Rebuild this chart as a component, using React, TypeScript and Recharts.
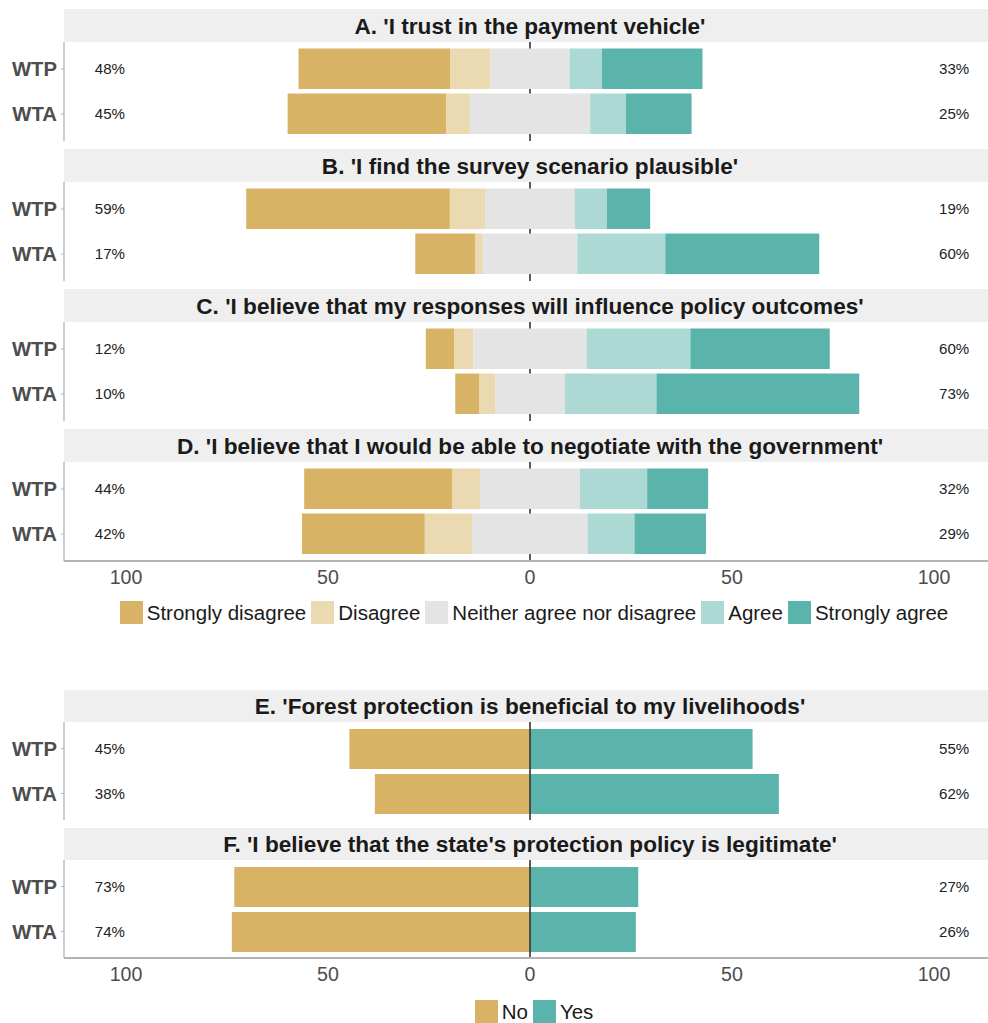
import React from 'react';
import {
  BarChart,
  Bar,
  XAxis,
  YAxis,
  CartesianGrid,
  ReferenceLine,
  ReferenceDot,
} from 'recharts';

const FONT = '"Liberation Sans", Arial, Helvetica, sans-serif';

// ---------- data ----------
const groups = ['WTP', 'WTA'];

const likertLevels = [
  'Strongly disagree',
  'Disagree',
  'Neither agree nor disagree',
  'Agree',
  'Strongly agree',
];
const likertColors = ['#D8B365', '#EBD9B1', '#E4E4E4', '#ADD9D5', '#5AB4AC'];

const binaryLevels = ['No', 'Yes'];
const binaryColors = ['#D8B365', '#5AB4AC'];

// values per group: [Strongly disagree, Disagree, Neither, Agree, Strongly agree]
const titleA = "A. 'I trust in the payment vehicle'";
const aWTP = [37.5, 10.0, 19.6, 8.0, 24.9];
const aWTA = [39.2, 5.9, 29.8, 8.8, 16.3];
const aLow = [48, 45];
const aHigh = [33, 25];

const titleB = "B. 'I find the survey scenario plausible'";
const bWTP = [50.4, 8.8, 22.1, 8.0, 10.7];
const bWTA = [14.8, 1.9, 23.4, 21.8, 38.1];
const bLow = [59, 17];
const bHigh = [19, 60];

const titleC = "C. 'I believe that my responses will influence policy outcomes'";
const cWTP = [7.0, 4.8, 28.0, 25.7, 34.5];
const cWTA = [5.9, 4.0, 17.2, 22.7, 50.2];
const cLow = [12, 10];
const cHigh = [60, 73];

const titleD = "D. 'I believe that I would be able to negotiate with the government'";
const dWTP = [36.6, 7.0, 24.6, 16.7, 15.1];
const dWTA = [30.4, 11.8, 28.5, 11.6, 17.7];
const dLow = [44, 42];
const dHigh = [32, 29];

// values per group: [No, Yes]
const titleE = "E. 'Forest protection is beneficial to my livelihoods'";
const eWTP = [44.7, 55.1];
const eWTA = [38.4, 61.6];
const eLow = [45, 38];
const eHigh = [55, 62];

const titleF = "F. 'I believe that the state's protection policy is legitimate'";
const fWTP = [73.2, 26.8];
const fWTA = [73.8, 26.2];
const fLow = [73, 74];
const fHigh = [27, 26];

const xTicks = [-100, -50, 0, 50, 100];
const xDomain: [number, number] = [-115.35, 115.35];
const LOW_LABEL_X = -104;
const HIGH_LABEL_X = 105;

// ---------- layout ----------
const CHART_W = 996;
const Y_AXIS_W = 64;
const AXIS_H = 30;
const AXIS_COLOR = '#B3B3B3';
const CENTER_COLOR = '#333333';

const likertKeys = ['nNeg', 'd', 'sd', 'nPos', 'a', 'sa'];
const likertKeyColor: Record<string, string> = {
  nNeg: likertColors[2],
  d: likertColors[1],
  sd: likertColors[0],
  nPos: likertColors[2],
  a: likertColors[3],
  sa: likertColors[4],
};

function likertRows(values: number[][]) {
  return groups.map((g, i) => {
    const [sd, d, n, a, sa] = values[i];
    return { group: g, nNeg: -n / 2, d: -d, sd: -sd, nPos: n / 2, a, sa };
  });
}

function binaryRows(values: number[][]) {
  return groups.map((g, i) => {
    const [no, yes] = values[i];
    return { group: g, no: -no, yes };
  });
}

const HiddenTick = () => <g />;

function Strip({ top, height, title }: { top: number; height: number; title: string }) {
  return (
    <div
      style={{
        position: 'absolute',
        top,
        left: Y_AXIS_W,
        width: CHART_W - Y_AXIS_W,
        height,
        background: '#EFEFEF',
        display: 'flex',
        alignItems: 'center',
        justifyContent: 'center',
        fontFamily: FONT,
        fontWeight: 700,
        fontSize: 22.6,
        color: '#1A1A1A',
        whiteSpace: 'nowrap',
      }}
    >
      <span style={{ position: 'relative', top: 1 }}>{title}</span>
    </div>
  );
}

type PanelProps = {
  top: number;
  stripH: number;
  bodyH: number;
  title: string;
  rows: any[];
  low: number[];
  high: number[];
  showAxis: boolean;
  kind: 'likert' | 'binary';
};

function Panel({ top, stripH, bodyH, title, rows, low, high, showAxis, kind }: PanelProps) {
  const chartH = bodyH + (showAxis ? AXIS_H : 1);
  const pad = (bodyH - 90) / 2;
  const barSize = kind === 'likert' ? 40.5 : 40;
  return (
    <>
      <Strip top={top} height={stripH} title={title} />
      <div style={{ position: 'absolute', top: top + stripH, left: 0 }}>
        <BarChart
          width={CHART_W}
          height={chartH}
          data={rows}
          layout="vertical"
          stackOffset="sign"
          barSize={barSize}
          margin={{ top: 0, right: 0, bottom: showAxis ? 0 : 1, left: 0 }}
        >
          {kind === 'likert' && (
            <CartesianGrid
              horizontal={false}
              vertical={true}
              verticalValues={[0]}
              stroke={CENTER_COLOR}
              strokeWidth={1.6}
            />
          )}
          <XAxis
            type="number"
            domain={xDomain}
            allowDataOverflow
            ticks={xTicks}
            tickFormatter={(v: number) => String(Math.abs(v))}
            height={showAxis ? AXIS_H : 0}
            tick={
              showAxis
                ? { fontSize: 19.6, fill: '#4D4D4D', fontFamily: FONT }
                : HiddenTick
            }
            tickSize={0}
            tickMargin={9}
            tickLine={false}
            axisLine={{ stroke: AXIS_COLOR, strokeWidth: 2 }}
          />
          <YAxis
            type="category"
            dataKey="group"
            width={Y_AXIS_W}
            padding={{ top: pad, bottom: pad }}
            axisLine={{ stroke: AXIS_COLOR, strokeWidth: 1.3 }}
            tickLine={{ stroke: AXIS_COLOR }}
            tickSize={3}
            tickMargin={4}
            tick={{ fontSize: 20.3, fontWeight: 700, fill: '#4D4D4D', fontFamily: FONT }}
          />
          {kind === 'likert'
            ? likertKeys.map((k) => (
                <Bar
                  key={k}
                  dataKey={k}
                  stackId="s"
                  fill={likertKeyColor[k]}
                  isAnimationActive={false}
                />
              ))
            : [
                <Bar key="no" dataKey="no" stackId="s" fill={binaryColors[0]} isAnimationActive={false} />,
                <Bar key="yes" dataKey="yes" stackId="s" fill={binaryColors[1]} isAnimationActive={false} />,
              ]}
          {kind === 'binary' && (
            <ReferenceLine x={0} stroke={CENTER_COLOR} strokeWidth={1.6} />
          )}
          {rows.map((r, i) => (
            <ReferenceDot
              key={'lo' + r.group}
              x={LOW_LABEL_X}
              y={r.group}
              r={0}
              fill="none"
              stroke="none"
              label={{
                value: `${low[i]}%`,
                position: 'center',
                fill: '#222222',
                fontSize: 15.1,
                fontFamily: FONT,
              }}
            />
          ))}
          {rows.map((r, i) => (
            <ReferenceDot
              key={'hi' + r.group}
              x={HIGH_LABEL_X}
              y={r.group}
              r={0}
              fill="none"
              stroke="none"
              label={{
                value: `${high[i]}%`,
                position: 'center',
                fill: '#222222',
                fontSize: 15.1,
                fontFamily: FONT,
              }}
            />
          ))}
        </BarChart>
      </div>
    </>
  );
}

function LegendRow({ top, labels, colors }: { top: number; labels: string[]; colors: string[] }) {
  return (
    <div
      style={{
        position: 'absolute',
        top,
        left: Y_AXIS_W + 4,
        width: CHART_W - Y_AXIS_W,
        height: 23,
        display: 'flex',
        justifyContent: 'center',
        alignItems: 'center',
        fontFamily: FONT,
        fontSize: 20.5,
        color: '#1A1A1A',
        whiteSpace: 'nowrap',
      }}
    >
      {labels.map((l, i) => (
        <div
          key={l}
          style={{ display: 'flex', alignItems: 'center', marginRight: i < labels.length - 1 ? 5 : 0 }}
        >
          <div style={{ width: 23, height: 23, background: colors[i], marginRight: 4 }} />
          <span>{l}</span>
        </div>
      ))}
    </div>
  );
}

export default function App() {
  const topPanels = [
    { top: 9, title: titleA, rows: likertRows([aWTP, aWTA]), low: aLow, high: aHigh },
    { top: 149, title: titleB, rows: likertRows([bWTP, bWTA]), low: bLow, high: bHigh },
    { top: 289, title: titleC, rows: likertRows([cWTP, cWTA]), low: cLow, high: cHigh },
    { top: 429, title: titleD, rows: likertRows([dWTP, dWTA]), low: dLow, high: dHigh },
  ];
  const bottomPanels = [
    { top: 690, title: titleE, rows: binaryRows([eWTP, eWTA]), low: eLow, high: eHigh },
    { top: 828, title: titleF, rows: binaryRows([fWTP, fWTA]), low: fLow, high: fHigh },
  ];
  return (
    <div
      style={{
        position: 'absolute',
        left: 0,
        top: 0,
        width: 988,
        height: 1023,
        overflow: 'hidden',
        background: '#FFFFFF',
        fontFamily: FONT,
      }}
    >
      {topPanels.map((p, i) => (
        <Panel
          key={p.title}
          top={p.top}
          stripH={33}
          bodyH={99}
          title={p.title}
          rows={p.rows}
          low={p.low}
          high={p.high}
          showAxis={i === topPanels.length - 1}
          kind="likert"
        />
      ))}
      <LegendRow top={601} labels={likertLevels} colors={likertColors} />
      {bottomPanels.map((p, i) => (
        <Panel
          key={p.title}
          top={p.top}
          stripH={32}
          bodyH={98}
          title={p.title}
          rows={p.rows}
          low={p.low}
          high={p.high}
          showAxis={i === bottomPanels.length - 1}
          kind="binary"
        />
      ))}
      <LegendRow top={1000} labels={binaryLevels} colors={binaryColors} />
    </div>
  );
}
